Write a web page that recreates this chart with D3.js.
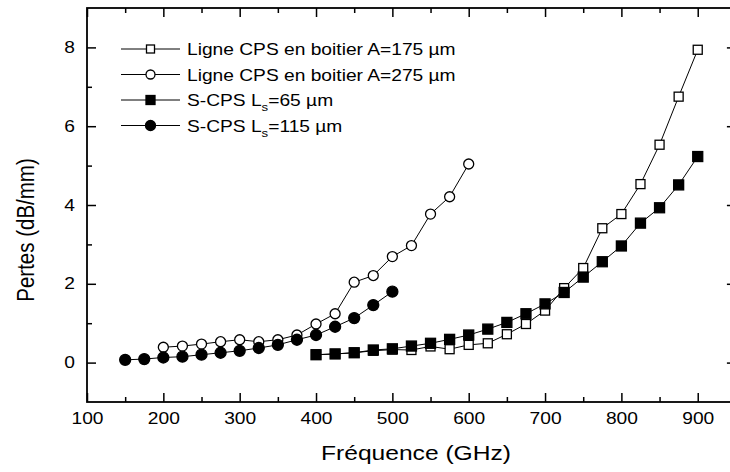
<!DOCTYPE html>
<html><head><meta charset="utf-8">
<script src="https://cdn.jsdelivr.net/npm/d3@7"></script>
<style>
body{margin:0;background:#fff;}
text{font-family:"Liberation Sans",Arial,sans-serif;fill:#000;}
</style></head>
<body><svg id="c" width="730" height="472"></svg>
<script>
// ---- data ----
const xTicksMajor = [100,200,300,400,500,600,700,800,900];
const yTicksMajor = [0,2,4,6,8];
const seriesNames = ["Ligne CPS en boitier A=175 µm","Ligne CPS en boitier A=275 µm","S-CPS Ls=65 µm","S-CPS Ls=115 µm"];
const cps175Freq = [400,425,450,475,500,525,550,575,600,625,650,675,700,725,750,775,800,825,850,875,900];
const cps175Loss = [0.20,0.22,0.25,0.30,0.33,0.32,0.41,0.34,0.45,0.49,0.72,0.98,1.32,1.89,2.40,3.41,3.77,4.53,5.53,6.75,7.94];
const cps275Freq = [200,225,250,275,300,325,350,375,400,425,450,475,500,525,550,575,600];
const cps275Loss = [0.39,0.42,0.47,0.53,0.58,0.53,0.58,0.70,0.98,1.24,2.04,2.21,2.69,2.97,3.77,4.21,5.04];
const scps65Freq = [400,425,450,475,500,525,550,575,600,625,650,675,700,725,750,775,800,825,850,875,900];
const scps65Loss = [0.20,0.22,0.25,0.32,0.35,0.42,0.49,0.59,0.70,0.85,1.02,1.24,1.49,1.78,2.17,2.56,2.96,3.54,3.93,4.51,5.23];
const scps115Freq = [150,175,200,225,250,275,300,325,350,375,400,425,450,475,500];
const scps115Loss = [0.07,0.09,0.13,0.15,0.20,0.25,0.30,0.37,0.45,0.58,0.70,0.91,1.13,1.46,1.80];

const SX = 1.2; // horizontal text stretch seen in the reference
const svg = d3.select("#c");
const L=87, T=8, B=402, R=735.9;
const x = d3.scaleLinear().domain([100,950]).range([L,R]);
const y = d3.scaleLinear().domain([-1,9]).range([B,T]);

const xMinor = d3.range(150,951,100);
const yMinor = [1,3,5,7];

function styleTicks(g){
  g.select(".domain").remove();
  g.selectAll(".tick line").attr("stroke","#000").attr("stroke-width",1.5);
}
// bottom
svg.append("g").attr("transform",`translate(0,${B})`)
  .call(d3.axisBottom(x).tickValues(xTicksMajor).tickSize(-9).tickPadding(11).tickFormat(d3.format("d")))
  .call(styleTicks)
  .call(g=>g.selectAll("text").style("font-size","16px").style("font-family","Liberation Sans, Arial, sans-serif")
    .attr("fill","#000").attr("transform",`scale(${SX},1)`));
svg.append("g").attr("transform",`translate(0,${B})`).call(d3.axisBottom(x).tickValues(xMinor).tickSize(-5).tickFormat("")).call(styleTicks);
// top
svg.append("g").attr("transform",`translate(0,${T})`).call(d3.axisTop(x).tickValues(xTicksMajor).tickSize(-9).tickFormat("")).call(styleTicks);
svg.append("g").attr("transform",`translate(0,${T})`).call(d3.axisTop(x).tickValues(xMinor).tickSize(-5).tickFormat("")).call(styleTicks);
// left
svg.append("g").attr("transform",`translate(${L},0)`)
  .call(d3.axisLeft(y).tickValues(yTicksMajor).tickSize(-9).tickPadding(12).tickFormat(d3.format("d")))
  .call(styleTicks)
  .call(g=>g.selectAll("text").style("font-size","16px").style("font-family","Liberation Sans, Arial, sans-serif")
    .attr("fill","#000").attr("x",-12/SX).attr("transform",`scale(${SX},1)`));
svg.append("g").attr("transform",`translate(${L},0)`).call(d3.axisLeft(y).tickValues(yMinor).tickSize(-5).tickFormat("")).call(styleTicks);
// right
svg.append("g").attr("transform",`translate(${R},0)`).call(d3.axisRight(y).tickValues(yTicksMajor).tickSize(-9).tickFormat("")).call(styleTicks);
svg.append("g").attr("transform",`translate(${R},0)`).call(d3.axisRight(y).tickValues(yMinor).tickSize(-5).tickFormat("")).call(styleTicks);

// frame
svg.append("rect").attr("x",L).attr("y",T).attr("width",R-L).attr("height",B-T)
  .attr("fill","none").attr("stroke","#000").attr("stroke-width",1.8);

// axis titles
svg.append("text").attr("transform",`translate(416,460) scale(${SX},1)`).attr("text-anchor","middle")
  .style("font-size","20.5px").text("Fréquence (GHz)");
svg.append("text").attr("transform",`translate(34,230) scale(${SX},1) rotate(-90)`).attr("text-anchor","middle")
  .style("font-size","20.5px").text("Pertes (dB/mm)");

const line = d3.line().x(d=>x(d[0])).y(d=>y(d[1]));
const series = [
  {f:cps175Freq, v:cps175Loss, shape:"square", fill:"#fff", size:9},
  {f:cps275Freq, v:cps275Loss, shape:"circle", fill:"#fff", size:10},
  {f:scps65Freq, v:scps65Loss, shape:"square", fill:"#000", size:10},
  {f:scps115Freq, v:scps115Loss, shape:"circle", fill:"#000", size:11}
];
function marker(g, shape, fill, size, cx, cy){
  if(shape==="square"){
    g.append("rect").attr("x",cx-size/2).attr("y",cy-size/2).attr("width",size).attr("height",size)
      .attr("fill",fill).attr("stroke","#000").attr("stroke-width",1.3);
  } else {
    g.append("circle").attr("cx",cx).attr("cy",cy).attr("r",size/2)
      .attr("fill",fill).attr("stroke","#000").attr("stroke-width",1.3);
  }
}
series.forEach(s=>{
  const pts = s.f.map((f,i)=>[f,s.v[i]]);
  const g = svg.append("g");
  g.append("path").datum(pts).attr("d",line).attr("fill","none").attr("stroke","#000").attr("stroke-width",1);
  pts.forEach(p=>marker(g,s.shape,s.fill,s.size,x(p[0]),y(p[1])));
});

// legend
const legY = [49,74.5,100,125.5];
series.forEach((s,i)=>{
  const g = svg.append("g");
  g.append("line").attr("x1",121).attr("x2",180).attr("y1",legY[i]).attr("y2",legY[i]).attr("stroke","#000").attr("stroke-width",1);
  marker(g,s.shape,s.fill,s.size-1,150.5,legY[i]);
  const t = g.append("text").attr("transform",`translate(187,${legY[i]+6}) scale(${SX},1)`).style("font-size","16px");
  const name = seriesNames[i];
  if(name.indexOf("Ls=")>=0){
    const parts = name.split("Ls=");
    t.append("tspan").text(parts[0]+"L");
    t.append("tspan").attr("dy",5).style("font-size","11px").text("s");
    t.append("tspan").attr("dy",-5).text("="+parts[1]);
  } else t.text(name);
});
</script></body></html>
